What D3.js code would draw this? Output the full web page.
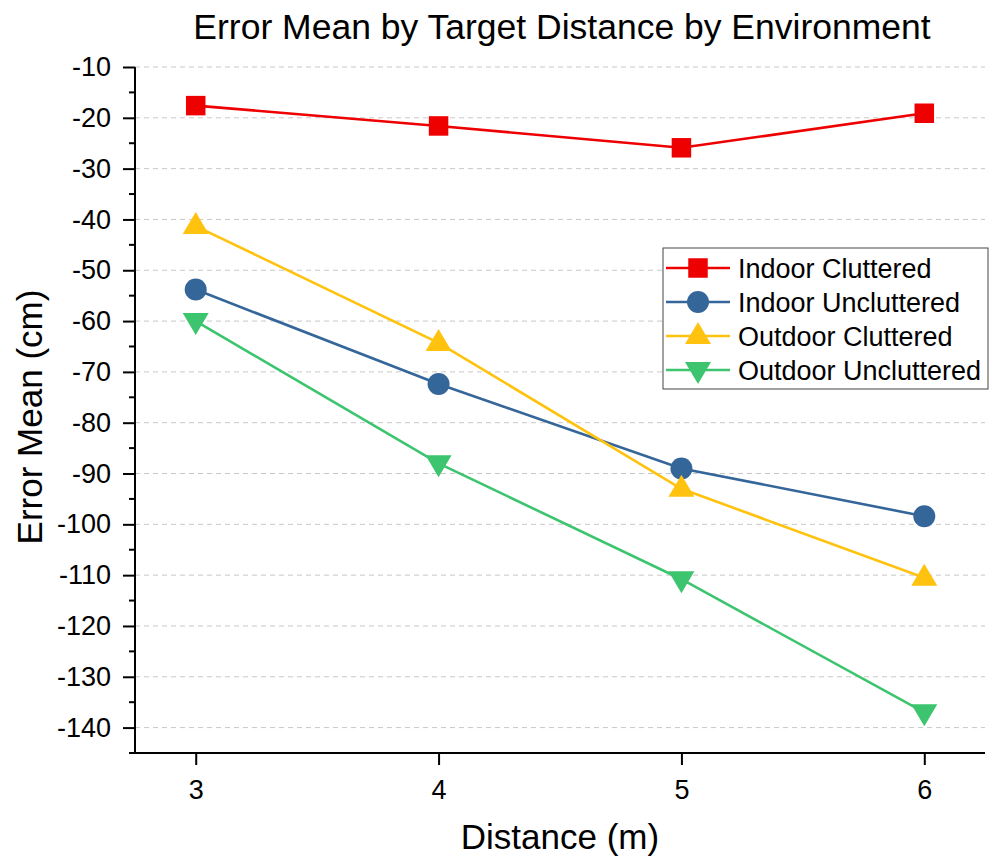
<!DOCTYPE html>
<html><head><meta charset="utf-8">
<script src="https://cdn.jsdelivr.net/npm/d3@7"></script>
<style>body{margin:0;background:#fff}svg{display:block;font-family:Arial,"Liberation Sans",sans-serif}</style>
</head><body><svg id="c" width="989" height="862"></svg>
<script>
const distances = [3, 4, 5, 6];
const seriesNames = ["Indoor Cluttered", "Indoor Uncluttered", "Outdoor Cluttered", "Outdoor Uncluttered"];
const indoorCluttered = [-17.6, -21.6, -25.9, -19.1];
const indoorUncluttered = [-53.8, -72.4, -89.0, -98.4];
const outdoorCluttered = [-41.3, -64.3, -93.0, -110.5];
const outdoorUncluttered = [-60.0, -88.0, -110.8, -137.0];
const seriesColors = ["#EE0000", "#35669A", "#FFC20E", "#3DC46F"];
const seriesShapes = ["square", "circle", "triangleUp", "triangleDown"];
const yTicks = [-10,-20,-30,-40,-50,-60,-70,-80,-90,-100,-110,-120,-130,-140];
const allSeries = [indoorCluttered, indoorUncluttered, outdoorCluttered, outdoorUncluttered];

(function(){
const svg = d3.select("#c");
const pl = 135, pr = 985, pt = 67, pb = 753;
const x = d3.scaleLinear().domain([2.75, 6.25]).range([pl, pr]);
const y = d3.scaleLinear().domain([-145, -10]).range([pb, pt]);
const fmt = d => String(d);

svg.append("g").selectAll("line").data(yTicks).join("line")
  .attr("x1", pl).attr("x2", pr)
  .attr("y1", d => y(d)).attr("y2", d => y(d))
  .attr("stroke", "#c8c8c8").attr("stroke-width", 1).attr("stroke-dasharray", "5,4");

const yAxis = svg.append("g").attr("transform", `translate(${pl},0)`)
  .call(d3.axisLeft(y).tickValues(yTicks).tickSize(12).tickPadding(12).tickFormat(fmt));
yAxis.attr("font-family", null);
yAxis.select(".domain").attr("stroke", "#000").attr("stroke-width", 2).attr("d", `M0,${pt}V${pb}`);
yAxis.selectAll(".tick line").attr("stroke-width", 2);
yAxis.selectAll("text").attr("font-size", 27).attr("fill", "#000");
const yMinor = d3.range(-145, -10, 10);
svg.append("g").selectAll("line").data(yMinor).join("line")
  .attr("x1", pl - 6).attr("x2", pl).attr("y1", d => y(d)).attr("y2", d => y(d))
  .attr("stroke", "#000").attr("stroke-width", 2);

const xAxis = svg.append("g").attr("transform", `translate(0,${pb})`)
  .call(d3.axisBottom(x).tickValues(distances).tickSize(12).tickPadding(15).tickFormat(fmt));
xAxis.attr("font-family", null);
xAxis.select(".domain").attr("stroke", "#000").attr("stroke-width", 2).attr("d", `M${pl},0H${pr}`);
xAxis.selectAll(".tick line").attr("stroke-width", 2);
xAxis.selectAll("text").attr("font-size", 27).attr("fill", "#000");

function markerPath(shape) {
  if (shape === "square") return "M-9.75,-9.75H9.75V9.75H-9.75Z";
  if (shape === "circle") return d3.symbol(d3.symbolCircle, Math.PI * 11 * 11)();
  if (shape === "triangleUp") return "M0,-14L13,8L-13,8Z";
  return "M0,14L13,-8L-13,-8Z";
}

const line = d3.line().x((d, i) => x(distances[i])).y(d => y(d));
allSeries.forEach((vals, si) => {
  svg.append("path").datum(vals).attr("d", line).attr("fill", "none")
    .attr("stroke", seriesColors[si]).attr("stroke-width", 2.6);
  svg.append("g").selectAll("path").data(vals).join("path")
    .attr("transform", (d, i) => `translate(${x(distances[i])},${y(d)})`)
    .attr("d", markerPath(seriesShapes[si])).attr("fill", seriesColors[si]);
});

const lg = svg.append("g");
lg.append("rect").attr("x", 663).attr("y", 248).attr("width", 325).attr("height", 141)
  .attr("fill", "#fff").attr("stroke", "#444").attr("stroke-width", 1);
seriesNames.forEach((name, i) => {
  const cy = 268 + i * 34;
  lg.append("line").attr("x1", 666).attr("x2", 730).attr("y1", cy).attr("y2", cy)
    .attr("stroke", seriesColors[i]).attr("stroke-width", 2.6);
  lg.append("path").attr("transform", `translate(698,${cy})`).attr("d", markerPath(seriesShapes[i]))
    .attr("fill", seriesColors[i]);
  lg.append("text").attr("x", 738).attr("y", cy + 9.5).attr("font-size", 27).attr("fill", "#000").text(name);
});

svg.append("text").attr("x", 562).attr("y", 39).attr("text-anchor", "middle")
  .attr("font-size", 35.5).attr("fill", "#000").text("Error Mean by Target Distance by Environment");
svg.append("text").attr("x", 560).attr("y", 849).attr("text-anchor", "middle")
  .attr("font-size", 35).attr("fill", "#000").text("Distance (m)");
svg.append("text").attr("transform", `translate(42,417) rotate(-90)`)
  .attr("text-anchor", "middle").attr("font-size", 35).attr("fill", "#000").text("Error Mean (cm)");
})();
</script></body></html>
